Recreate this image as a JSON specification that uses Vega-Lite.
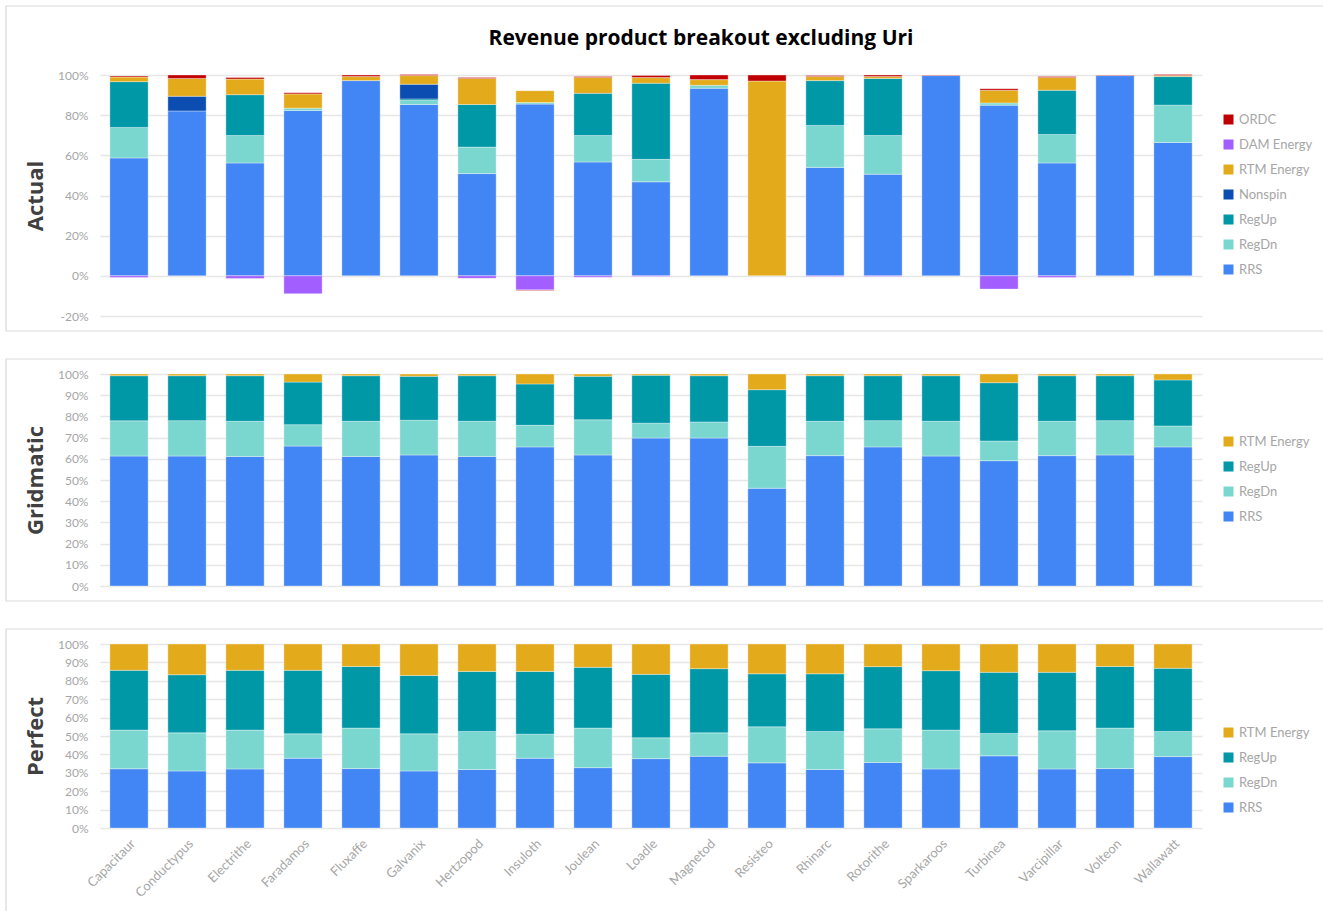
{
  "$schema": "https://vega.github.io/schema/vega-lite/v6.json",
  "background": "white",
  "padding": {"left": 5, "top": 5, "right": 0, "bottom": 0},
  "bounds": "flush",
  "spacing": 58,
  "config": {
    "font": "Lato",
    "view": {"stroke": null},
    "axis": {
      "labelColor": "#a6a6a6",
      "labelFont": "Lato",
      "labelFontSize": 12,
      "labelOverlap": false,
      "titleColor": "#404040",
      "titleFont": "Open Sans",
      "titleFontSize": 22,
      "titleFontWeight": "bold",
      "gridColor": "#e6e6e6",
      "gridWidth": 1.5,
      "domain": false,
      "ticks": false
    },
    "legend": {
      "orient": "none",
      "title": null,
      "symbolType": "square",
      "symbolSize": 100,
      "symbolStrokeWidth": 0,
      "labelFont": "Lato",
      "labelFontSize": 13,
      "labelColor": "#a6a6a6",
      "rowPadding": 11,
      "labelOffset": 4
    },
    "title": {"font": "Open Sans", "fontSize": 21, "fontWeight": "bold", "color": "#000000"}
  },
  "datasets": {
    "frame": [{"frame": "panel"}],
    "stacking": [
      {"product": "RRS", "rank": 1},
      {"product": "RegDn", "rank": 2},
      {"product": "RegUp", "rank": 3},
      {"product": "Nonspin", "rank": 4},
      {"product": "RTM Energy", "rank": 5},
      {"product": "DAM Energy", "rank": 6},
      {"product": "ORDC", "rank": 7}
    ],
    "actual": [
      {"company": "Capacitaur", "product": "RRS", "share": 58.7},
      {"company": "Capacitaur", "product": "RegDn", "share": 15.2},
      {"company": "Capacitaur", "product": "RegUp", "share": 22.8},
      {"company": "Capacitaur", "product": "RTM Energy", "share": 2.3},
      {"company": "Capacitaur", "product": "ORDC", "share": 0.5},
      {"company": "Capacitaur", "product": "DAM Energy", "share": -0.8},
      {"company": "Conductypus", "product": "RRS", "share": 82.1},
      {"company": "Conductypus", "product": "Nonspin", "share": 7.3},
      {"company": "Conductypus", "product": "RTM Energy", "share": 8.9},
      {"company": "Conductypus", "product": "ORDC", "share": 1.7},
      {"company": "Electrithe", "product": "RRS", "share": 56.2},
      {"company": "Electrithe", "product": "RegDn", "share": 13.7},
      {"company": "Electrithe", "product": "RegUp", "share": 20.3},
      {"company": "Electrithe", "product": "RTM Energy", "share": 7.8},
      {"company": "Electrithe", "product": "ORDC", "share": 0.8},
      {"company": "Electrithe", "product": "DAM Energy", "share": -1.3},
      {"company": "Faradamos", "product": "RRS", "share": 82.3},
      {"company": "Faradamos", "product": "RegDn", "share": 1.2},
      {"company": "Faradamos", "product": "RTM Energy", "share": 7.1},
      {"company": "Faradamos", "product": "ORDC", "share": 0.5},
      {"company": "Faradamos", "product": "DAM Energy", "share": -8.9},
      {"company": "Fluxaffe", "product": "RRS", "share": 97.2},
      {"company": "Fluxaffe", "product": "RTM Energy", "share": 2.0},
      {"company": "Fluxaffe", "product": "ORDC", "share": 0.8},
      {"company": "Galvanix", "product": "RRS", "share": 85.3},
      {"company": "Galvanix", "product": "RegDn", "share": 2.0},
      {"company": "Galvanix", "product": "RegUp", "share": 0.8},
      {"company": "Galvanix", "product": "Nonspin", "share": 7.3},
      {"company": "Galvanix", "product": "RTM Energy", "share": 4.3},
      {"company": "Galvanix", "product": "ORDC", "share": 0.5},
      {"company": "Hertzopod", "product": "RRS", "share": 50.9},
      {"company": "Hertzopod", "product": "RegDn", "share": 13.2},
      {"company": "Hertzopod", "product": "RegUp", "share": 21.2},
      {"company": "Hertzopod", "product": "RTM Energy", "share": 13.0},
      {"company": "Hertzopod", "product": "ORDC", "share": 0.5},
      {"company": "Hertzopod", "product": "DAM Energy", "share": -1.2},
      {"company": "Insuloth", "product": "RRS", "share": 85.5},
      {"company": "Insuloth", "product": "RegDn", "share": 0.8},
      {"company": "Insuloth", "product": "RTM Energy", "share": 5.9},
      {"company": "Insuloth", "product": "DAM Energy", "share": -7.0},
      {"company": "Insuloth", "product": "ORDC", "share": -0.3},
      {"company": "Joulean", "product": "RRS", "share": 56.7},
      {"company": "Joulean", "product": "RegDn", "share": 13.2},
      {"company": "Joulean", "product": "RegUp", "share": 21.0},
      {"company": "Joulean", "product": "RTM Energy", "share": 7.9},
      {"company": "Joulean", "product": "ORDC", "share": 0.5},
      {"company": "Joulean", "product": "DAM Energy", "share": -0.7},
      {"company": "Loadle", "product": "RRS", "share": 46.8},
      {"company": "Loadle", "product": "RegDn", "share": 11.2},
      {"company": "Loadle", "product": "RegUp", "share": 37.9},
      {"company": "Loadle", "product": "RTM Energy", "share": 2.8},
      {"company": "Loadle", "product": "ORDC", "share": 1.0},
      {"company": "Loadle", "product": "DAM Energy", "share": -0.3},
      {"company": "Magnetod", "product": "RRS", "share": 93.4},
      {"company": "Magnetod", "product": "RegDn", "share": 1.5},
      {"company": "Magnetod", "product": "RTM Energy", "share": 2.8},
      {"company": "Magnetod", "product": "ORDC", "share": 2.3},
      {"company": "Resisteo", "product": "RTM Energy", "share": 97.0},
      {"company": "Resisteo", "product": "ORDC", "share": 3.0},
      {"company": "Rhinarc", "product": "RRS", "share": 54.0},
      {"company": "Rhinarc", "product": "RegDn", "share": 20.9},
      {"company": "Rhinarc", "product": "RegUp", "share": 22.3},
      {"company": "Rhinarc", "product": "RTM Energy", "share": 2.0},
      {"company": "Rhinarc", "product": "ORDC", "share": 0.5},
      {"company": "Rhinarc", "product": "DAM Energy", "share": -0.3},
      {"company": "Rotorithe", "product": "RRS", "share": 50.6},
      {"company": "Rotorithe", "product": "RegDn", "share": 19.3},
      {"company": "Rotorithe", "product": "RegUp", "share": 28.4},
      {"company": "Rotorithe", "product": "RTM Energy", "share": 0.9},
      {"company": "Rotorithe", "product": "ORDC", "share": 0.8},
      {"company": "Rotorithe", "product": "DAM Energy", "share": -0.3},
      {"company": "Sparkaroos", "product": "RRS", "share": 99.7},
      {"company": "Sparkaroos", "product": "ORDC", "share": 0.3},
      {"company": "Turbinea", "product": "RRS", "share": 85.0},
      {"company": "Turbinea", "product": "RegDn", "share": 1.1},
      {"company": "Turbinea", "product": "RTM Energy", "share": 6.3},
      {"company": "Turbinea", "product": "ORDC", "share": 0.8},
      {"company": "Turbinea", "product": "DAM Energy", "share": -6.6},
      {"company": "Varcipillar", "product": "RRS", "share": 56.2},
      {"company": "Varcipillar", "product": "RegDn", "share": 14.2},
      {"company": "Varcipillar", "product": "RegUp", "share": 22.0},
      {"company": "Varcipillar", "product": "RTM Energy", "share": 6.4},
      {"company": "Varcipillar", "product": "ORDC", "share": 0.5},
      {"company": "Varcipillar", "product": "DAM Energy", "share": -0.8},
      {"company": "Volteon", "product": "RRS", "share": 99.7},
      {"company": "Volteon", "product": "ORDC", "share": 0.3},
      {"company": "Wallawatt", "product": "RRS", "share": 66.4},
      {"company": "Wallawatt", "product": "RegDn", "share": 18.6},
      {"company": "Wallawatt", "product": "RegUp", "share": 14.2},
      {"company": "Wallawatt", "product": "RTM Energy", "share": 0.5},
      {"company": "Wallawatt", "product": "ORDC", "share": 0.5}
    ],
    "gridmatic": [
      {"company": "Capacitaur", "product": "RRS", "share": 61.3},
      {"company": "Capacitaur", "product": "RegDn", "share": 16.6},
      {"company": "Capacitaur", "product": "RegUp", "share": 21.3},
      {"company": "Capacitaur", "product": "RTM Energy", "share": 0.8},
      {"company": "Conductypus", "product": "RRS", "share": 61.3},
      {"company": "Conductypus", "product": "RegDn", "share": 16.7},
      {"company": "Conductypus", "product": "RegUp", "share": 21.2},
      {"company": "Conductypus", "product": "RTM Energy", "share": 0.8},
      {"company": "Electrithe", "product": "RRS", "share": 61.1},
      {"company": "Electrithe", "product": "RegDn", "share": 16.6},
      {"company": "Electrithe", "product": "RegUp", "share": 21.5},
      {"company": "Electrithe", "product": "RTM Energy", "share": 0.8},
      {"company": "Faradamos", "product": "RRS", "share": 66.0},
      {"company": "Faradamos", "product": "RegDn", "share": 10.1},
      {"company": "Faradamos", "product": "RegUp", "share": 20.1},
      {"company": "Faradamos", "product": "RTM Energy", "share": 3.8},
      {"company": "Fluxaffe", "product": "RRS", "share": 61.1},
      {"company": "Fluxaffe", "product": "RegDn", "share": 16.6},
      {"company": "Fluxaffe", "product": "RegUp", "share": 21.5},
      {"company": "Fluxaffe", "product": "RTM Energy", "share": 0.8},
      {"company": "Galvanix", "product": "RRS", "share": 61.8},
      {"company": "Galvanix", "product": "RegDn", "share": 16.4},
      {"company": "Galvanix", "product": "RegUp", "share": 20.7},
      {"company": "Galvanix", "product": "RTM Energy", "share": 1.1},
      {"company": "Hertzopod", "product": "RRS", "share": 61.1},
      {"company": "Hertzopod", "product": "RegDn", "share": 16.6},
      {"company": "Hertzopod", "product": "RegUp", "share": 21.5},
      {"company": "Hertzopod", "product": "RTM Energy", "share": 0.8},
      {"company": "Insuloth", "product": "RRS", "share": 65.6},
      {"company": "Insuloth", "product": "RegDn", "share": 10.2},
      {"company": "Insuloth", "product": "RegUp", "share": 19.5},
      {"company": "Insuloth", "product": "RTM Energy", "share": 4.7},
      {"company": "Joulean", "product": "RRS", "share": 61.8},
      {"company": "Joulean", "product": "RegDn", "share": 16.6},
      {"company": "Joulean", "product": "RegUp", "share": 20.5},
      {"company": "Joulean", "product": "RTM Energy", "share": 1.1},
      {"company": "Loadle", "product": "RRS", "share": 69.8},
      {"company": "Loadle", "product": "RegDn", "share": 7.0},
      {"company": "Loadle", "product": "RegUp", "share": 22.6},
      {"company": "Loadle", "product": "RTM Energy", "share": 0.6},
      {"company": "Magnetod", "product": "RRS", "share": 69.8},
      {"company": "Magnetod", "product": "RegDn", "share": 7.6},
      {"company": "Magnetod", "product": "RegUp", "share": 21.8},
      {"company": "Magnetod", "product": "RTM Energy", "share": 0.8},
      {"company": "Resisteo", "product": "RRS", "share": 46.1},
      {"company": "Resisteo", "product": "RegDn", "share": 19.8},
      {"company": "Resisteo", "product": "RegUp", "share": 26.7},
      {"company": "Resisteo", "product": "RTM Energy", "share": 7.4},
      {"company": "Rhinarc", "product": "RRS", "share": 61.5},
      {"company": "Rhinarc", "product": "RegDn", "share": 16.2},
      {"company": "Rhinarc", "product": "RegUp", "share": 21.5},
      {"company": "Rhinarc", "product": "RTM Energy", "share": 0.8},
      {"company": "Rotorithe", "product": "RRS", "share": 65.6},
      {"company": "Rotorithe", "product": "RegDn", "share": 12.4},
      {"company": "Rotorithe", "product": "RegUp", "share": 21.2},
      {"company": "Rotorithe", "product": "RTM Energy", "share": 0.8},
      {"company": "Sparkaroos", "product": "RRS", "share": 61.3},
      {"company": "Sparkaroos", "product": "RegDn", "share": 16.4},
      {"company": "Sparkaroos", "product": "RegUp", "share": 21.5},
      {"company": "Sparkaroos", "product": "RTM Energy", "share": 0.8},
      {"company": "Turbinea", "product": "RRS", "share": 59.1},
      {"company": "Turbinea", "product": "RegDn", "share": 9.3},
      {"company": "Turbinea", "product": "RegUp", "share": 27.5},
      {"company": "Turbinea", "product": "RTM Energy", "share": 4.1},
      {"company": "Varcipillar", "product": "RRS", "share": 61.5},
      {"company": "Varcipillar", "product": "RegDn", "share": 16.2},
      {"company": "Varcipillar", "product": "RegUp", "share": 21.5},
      {"company": "Varcipillar", "product": "RTM Energy", "share": 0.8},
      {"company": "Volteon", "product": "RRS", "share": 61.8},
      {"company": "Volteon", "product": "RegDn", "share": 16.2},
      {"company": "Volteon", "product": "RegUp", "share": 21.2},
      {"company": "Volteon", "product": "RTM Energy", "share": 0.8},
      {"company": "Wallawatt", "product": "RRS", "share": 65.6},
      {"company": "Wallawatt", "product": "RegDn", "share": 9.9},
      {"company": "Wallawatt", "product": "RegUp", "share": 21.7},
      {"company": "Wallawatt", "product": "RTM Energy", "share": 2.8}
    ],
    "perfect": [
      {"company": "Capacitaur", "product": "RRS", "share": 32.2},
      {"company": "Capacitaur", "product": "RegDn", "share": 21.0},
      {"company": "Capacitaur", "product": "RegUp", "share": 32.5},
      {"company": "Capacitaur", "product": "RTM Energy", "share": 14.3},
      {"company": "Conductypus", "product": "RRS", "share": 31.0},
      {"company": "Conductypus", "product": "RegDn", "share": 20.7},
      {"company": "Conductypus", "product": "RegUp", "share": 31.6},
      {"company": "Conductypus", "product": "RTM Energy", "share": 16.7},
      {"company": "Electrithe", "product": "RRS", "share": 32.1},
      {"company": "Electrithe", "product": "RegDn", "share": 21.1},
      {"company": "Electrithe", "product": "RegUp", "share": 32.5},
      {"company": "Electrithe", "product": "RTM Energy", "share": 14.3},
      {"company": "Faradamos", "product": "RRS", "share": 37.9},
      {"company": "Faradamos", "product": "RegDn", "share": 13.3},
      {"company": "Faradamos", "product": "RegUp", "share": 34.5},
      {"company": "Faradamos", "product": "RTM Energy", "share": 14.3},
      {"company": "Fluxaffe", "product": "RRS", "share": 32.3},
      {"company": "Fluxaffe", "product": "RegDn", "share": 22.0},
      {"company": "Fluxaffe", "product": "RegUp", "share": 33.5},
      {"company": "Fluxaffe", "product": "RTM Energy", "share": 12.2},
      {"company": "Galvanix", "product": "RRS", "share": 31.0},
      {"company": "Galvanix", "product": "RegDn", "share": 20.2},
      {"company": "Galvanix", "product": "RegUp", "share": 31.7},
      {"company": "Galvanix", "product": "RTM Energy", "share": 17.1},
      {"company": "Hertzopod", "product": "RRS", "share": 31.8},
      {"company": "Hertzopod", "product": "RegDn", "share": 20.7},
      {"company": "Hertzopod", "product": "RegUp", "share": 32.6},
      {"company": "Hertzopod", "product": "RTM Energy", "share": 14.9},
      {"company": "Insuloth", "product": "RRS", "share": 37.9},
      {"company": "Insuloth", "product": "RegDn", "share": 13.1},
      {"company": "Insuloth", "product": "RegUp", "share": 34.1},
      {"company": "Insuloth", "product": "RTM Energy", "share": 14.9},
      {"company": "Joulean", "product": "RRS", "share": 32.8},
      {"company": "Joulean", "product": "RegDn", "share": 21.5},
      {"company": "Joulean", "product": "RegUp", "share": 33.0},
      {"company": "Joulean", "product": "RTM Energy", "share": 12.7},
      {"company": "Loadle", "product": "RRS", "share": 37.7},
      {"company": "Loadle", "product": "RegDn", "share": 11.3},
      {"company": "Loadle", "product": "RegUp", "share": 34.5},
      {"company": "Loadle", "product": "RTM Energy", "share": 16.5},
      {"company": "Magnetod", "product": "RRS", "share": 39.0},
      {"company": "Magnetod", "product": "RegDn", "share": 12.7},
      {"company": "Magnetod", "product": "RegUp", "share": 34.9},
      {"company": "Magnetod", "product": "RTM Energy", "share": 13.4},
      {"company": "Resisteo", "product": "RRS", "share": 35.4},
      {"company": "Resisteo", "product": "RegDn", "share": 19.6},
      {"company": "Resisteo", "product": "RegUp", "share": 28.8},
      {"company": "Resisteo", "product": "RTM Energy", "share": 16.2},
      {"company": "Rhinarc", "product": "RRS", "share": 31.8},
      {"company": "Rhinarc", "product": "RegDn", "share": 20.7},
      {"company": "Rhinarc", "product": "RegUp", "share": 31.3},
      {"company": "Rhinarc", "product": "RTM Energy", "share": 16.2},
      {"company": "Rotorithe", "product": "RRS", "share": 35.6},
      {"company": "Rotorithe", "product": "RegDn", "share": 18.3},
      {"company": "Rotorithe", "product": "RegUp", "share": 33.8},
      {"company": "Rotorithe", "product": "RTM Energy", "share": 12.3},
      {"company": "Sparkaroos", "product": "RRS", "share": 32.1},
      {"company": "Sparkaroos", "product": "RegDn", "share": 21.1},
      {"company": "Sparkaroos", "product": "RegUp", "share": 32.3},
      {"company": "Sparkaroos", "product": "RTM Energy", "share": 14.5},
      {"company": "Turbinea", "product": "RRS", "share": 39.2},
      {"company": "Turbinea", "product": "RegDn", "share": 12.2},
      {"company": "Turbinea", "product": "RegUp", "share": 33.2},
      {"company": "Turbinea", "product": "RTM Energy", "share": 15.4},
      {"company": "Varcipillar", "product": "RRS", "share": 32.1},
      {"company": "Varcipillar", "product": "RegDn", "share": 20.7},
      {"company": "Varcipillar", "product": "RegUp", "share": 31.8},
      {"company": "Varcipillar", "product": "RTM Energy", "share": 15.4},
      {"company": "Volteon", "product": "RRS", "share": 32.3},
      {"company": "Volteon", "product": "RegDn", "share": 22.0},
      {"company": "Volteon", "product": "RegUp", "share": 33.5},
      {"company": "Volteon", "product": "RTM Energy", "share": 12.2},
      {"company": "Wallawatt", "product": "RRS", "share": 38.8},
      {"company": "Wallawatt", "product": "RegDn", "share": 13.7},
      {"company": "Wallawatt", "product": "RegUp", "share": 34.3},
      {"company": "Wallawatt", "product": "RTM Energy", "share": 13.2}
    ]
  },
  "resolve": {"scale": {"color": "independent"}, "legend": {"color": "independent"}},
  "vconcat": [
    {
      "width": 1102,
      "height": 241,
      "title": {"text": "Revenue product breakout excluding Uri", "anchor": "middle", "dx": 50, "offset": -44},
      "resolve": {"scale": {"x": "independent"}},
      "layer": [
        {
          "data": {"name": "actual"},
          "transform": [{"lookup": "product", "from": {"data": {"name": "stacking"}, "key": "product", "fields": ["rank"]}}],
          "mark": {"type": "bar", "stroke": "white", "strokeWidth": 1, "strokeOpacity": 0.35},
          "encoding": {
            "x": {"field": "company", "type": "nominal", "sort": null, "axis": null,
                  "scale": {"paddingInner": 0.34, "paddingOuter": 0.17}},
            "y": {"field": "share", "type": "quantitative", "stack": "zero",
                  "scale": {"domain": [-20, 100], "nice": false},
                  "axis": {"title": "Actual", "values": [-20, 0, 20, 40, 60, 80, 100], "labelExpr": "datum.value + '%'", "labelPadding": 12, "titlePadding": 10}},
            "order": {"field": "rank", "type": "quantitative", "sort": "ascending"},
            "color": {"field": "product", "type": "nominal",
                      "scale": {"domain": ["ORDC", "DAM Energy", "RTM Energy", "Nonspin", "RegUp", "RegDn", "RRS"],
                                "range": ["#c00000", "#a25eff", "#e3ab1c", "#0b4db1", "#0097a7", "#7ad7cf", "#4285f4"]},
                      "legend": {"legendX": 1122, "legendY": 38}}
          }
        },
        {
          "data": {"name": "frame"},
          "mark": {"type": "rect", "fill": "white", "fillOpacity": 0, "stroke": "#d9d9d9", "strokeWidth": 1.2},
          "encoding": {
            "x": {"datum": -0.0853, "type": "quantitative", "scale": {"domain": [0, 1]}, "axis": null},
            "x2": {"datum": 1.12},
            "y": {"datum": 134.36, "type": "quantitative", "scale": {"domain": [-20, 100], "nice": false},
                  "axis": {"title": "Actual", "values": [-20, 0, 20, 40, 60, 80, 100], "labelExpr": "datum.value + '%'", "labelPadding": 12, "titlePadding": 10}},
            "y2": {"datum": -27.47}
          }
        }
      ]
    },
    {
      "width": 1102,
      "height": 212,
      "resolve": {"scale": {"x": "independent"}},
      "layer": [
        {
          "data": {"name": "gridmatic"},
          "transform": [{"lookup": "product", "from": {"data": {"name": "stacking"}, "key": "product", "fields": ["rank"]}}],
          "mark": {"type": "bar", "stroke": "white", "strokeWidth": 1, "strokeOpacity": 0.35},
          "encoding": {
            "x": {"field": "company", "type": "nominal", "sort": null, "axis": null,
                  "scale": {"paddingInner": 0.34, "paddingOuter": 0.17}},
            "y": {"field": "share", "type": "quantitative", "stack": "zero",
                  "scale": {"domain": [0, 100], "nice": false},
                  "axis": {"title": "Gridmatic", "values": [0, 10, 20, 30, 40, 50, 60, 70, 80, 90, 100], "labelExpr": "datum.value + '%'", "labelPadding": 12, "titlePadding": 10}},
            "order": {"field": "rank", "type": "quantitative", "sort": "ascending"},
            "color": {"field": "product", "type": "nominal",
                      "scale": {"domain": ["RTM Energy", "RegUp", "RegDn", "RRS"],
                                "range": ["#e3ab1c", "#0097a7", "#7ad7cf", "#4285f4"]},
                      "legend": {"legendX": 1122, "legendY": 61}}
          }
        },
        {
          "data": {"name": "frame"},
          "mark": {"type": "rect", "fill": "white", "fillOpacity": 0, "stroke": "#d9d9d9", "strokeWidth": 1.2},
          "encoding": {
            "x": {"datum": -0.0853, "type": "quantitative", "scale": {"domain": [0, 1]}, "axis": null},
            "x2": {"datum": 1.12},
            "y": {"datum": 107.08, "type": "quantitative", "scale": {"domain": [0, 100], "nice": false},
                  "axis": {"title": "Gridmatic", "values": [0, 10, 20, 30, 40, 50, 60, 70, 80, 90, 100], "labelExpr": "datum.value + '%'", "labelPadding": 12, "titlePadding": 10}},
            "y2": {"datum": -7.08}
          }
        }
      ]
    },
    {
      "width": 1102,
      "height": 184,
      "resolve": {"scale": {"x": "independent"}},
      "layer": [
        {
          "data": {"name": "perfect"},
          "transform": [{"lookup": "product", "from": {"data": {"name": "stacking"}, "key": "product", "fields": ["rank"]}}],
          "mark": {"type": "bar", "stroke": "white", "strokeWidth": 1, "strokeOpacity": 0.35},
          "encoding": {
            "x": {"field": "company", "type": "nominal", "sort": null,
                  "scale": {"paddingInner": 0.34, "paddingOuter": 0.17},
                  "axis": {"title": null, "labelAngle": -45, "labelPadding": 9, "labelFontSize": 13}},
            "y": {"field": "share", "type": "quantitative", "stack": "zero",
                  "scale": {"domain": [0, 100], "nice": false},
                  "axis": {"title": "Perfect", "values": [0, 10, 20, 30, 40, 50, 60, 70, 80, 90, 100], "labelExpr": "datum.value + '%'", "labelPadding": 12, "titlePadding": 10}},
            "order": {"field": "rank", "type": "quantitative", "sort": "ascending"},
            "color": {"field": "product", "type": "nominal",
                      "scale": {"domain": ["RTM Energy", "RegUp", "RegDn", "RRS"],
                                "range": ["#e3ab1c", "#0097a7", "#7ad7cf", "#4285f4"]},
                      "legend": {"legendX": 1122, "legendY": 82}}
          }
        },
        {
          "data": {"name": "frame"},
          "mark": {"type": "rect", "fill": "white", "fillOpacity": 0, "stroke": "#d9d9d9", "strokeWidth": 1.2},
          "encoding": {
            "x": {"datum": -0.0853, "type": "quantitative", "scale": {"domain": [0, 1]}, "axis": null},
            "x2": {"datum": 1.12},
            "y": {"datum": 108.15, "type": "quantitative", "scale": {"domain": [0, 100], "nice": false},
                  "axis": {"title": "Perfect", "values": [0, 10, 20, 30, 40, 50, 60, 70, 80, 90, 100], "labelExpr": "datum.value + '%'", "labelPadding": 12, "titlePadding": 10}},
            "y2": {"datum": -50.5}
          }
        }
      ]
    }
  ]
}
